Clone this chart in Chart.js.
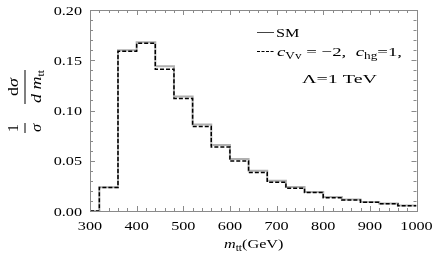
<!DOCTYPE html>
<html>
<head>
<meta charset="utf-8">
<script src="https://cdn.jsdelivr.net/npm/chart.js@4"></script>
<style>
  html, body { margin: 0; padding: 0; background: #fff; }
  #wrap { width: 432px; height: 264px; position: relative; }
</style>
</head>
<body>
<div id="wrap"><canvas id="myChart" width="432" height="264"></canvas></div>
<script>
// bin edges of the m_tt histogram (GeV)
var binEdges = [300, 320, 360, 400, 440, 480, 520, 560, 600, 640, 680, 720, 760, 800, 840, 880, 920, 960, 1000];
// 1/sigma dsigma/dm_tt per bin
var smValues = [0, 0.0237, 0.160, 0.168, 0.144, 0.114, 0.086, 0.0657, 0.0517, 0.040, 0.030, 0.024, 0.019, 0.014, 0.0115, 0.009, 0.0075, 0.0055];
var bsmValues = [0, 0.0235, 0.159, 0.167, 0.141, 0.112, 0.084, 0.0637, 0.0497, 0.0383, 0.0287, 0.0227, 0.0183, 0.0133, 0.011, 0.0087, 0.0073, 0.0053];
var xTicks = [300, 400, 500, 600, 700, 800, 900, 1000];
var yTicks = [0, 0.05, 0.10, 0.15, 0.20];

var serif = '"Liberation Serif", "DejaVu Serif", serif';
var SX = 1.2; // the Mathematica text is set wide

function toSteps(vals) {
  var pts = [];
  for (var i = 0; i < binEdges.length; i++) {
    pts.push({ x: binEdges[i], y: vals[Math.min(i, vals.length - 1)] });
  }
  return pts;
}

// draw text stretched horizontally, returns drawn width
function txt(ctx, s, x, y, font, align, sx) {
  sx = sx || SX;
  ctx.save();
  ctx.font = font;
  ctx.textAlign = 'left';
  var w = ctx.measureText(s).width * sx;
  var left = x;
  if (align === 'center') left = x - w / 2;
  if (align === 'right') left = x - w;
  ctx.translate(left, y);
  ctx.scale(sx, 1);
  ctx.fillText(s, 0, 0);
  ctx.restore();
  return w;
}

// pieces: [text, font, dy]; drawn left to right, fitted to a width if given
function txtRun(ctx, pieces, x, y, width) {
  var nat = 0;
  pieces.forEach(function(p) { ctx.font = p[1]; nat += ctx.measureText(p[0]).width; });
  var sx = width ? width / nat : SX;
  var cx = x;
  pieces.forEach(function(p) { cx += txt(ctx, p[0], cx, y + (p[2] || 0), p[1], 'left', sx); });
}

var framePlugin = {
  id: 'frame',
  afterDraw: function(chart) {
    var ctx = chart.ctx;
    var a = chart.chartArea;
    var xs = chart.scales.x, ys = chart.scales.y;
    ctx.save();
    ctx.strokeStyle = '#8a8a8a';
    ctx.lineWidth = 1;
    ctx.strokeRect(Math.round(a.left) + 0.5, Math.round(a.top) + 0.5,
      Math.round(a.right - a.left), Math.round(a.bottom - a.top));
    ctx.beginPath();
    for (var v = 300; v <= 1000; v += 20) {
      var px = Math.round(xs.getPixelForValue(v)) + 0.5;
      var len = (v % 100 === 0) ? 5 : 3;
      ctx.moveTo(px, a.bottom); ctx.lineTo(px, a.bottom - len);
      ctx.moveTo(px, a.top); ctx.lineTo(px, a.top + len);
    }
    for (var k = 0; k <= 20; k++) {
      var py = Math.round(ys.getPixelForValue(k / 100)) + 0.5;
      var l2 = (k % 5 === 0) ? 5 : 3;
      ctx.moveTo(a.left, py); ctx.lineTo(a.left + l2, py);
      ctx.moveTo(a.right, py); ctx.lineTo(a.right - l2, py);
    }
    ctx.stroke();

    ctx.fillStyle = '#000';
    ctx.textBaseline = 'alphabetic';
    var f13 = '13.5px ' + serif, i13 = 'italic 13.5px ' + serif, f9 = '9.5px ' + serif;
    var f14 = '15px ' + serif, i14 = 'italic 15px ' + serif, f10 = '10px ' + serif;

    // tick labels
    xTicks.forEach(function(t) {
      txt(ctx, String(t), xs.getPixelForValue(t), 230, f13, 'center');
    });
    yTicks.forEach(function(t) {
      txt(ctx, t.toFixed(2), 82, ys.getPixelForValue(t) + 4.5, f13, 'right');
    });

    // x axis title m_tt(GeV)
    txtRun(ctx, [['m', i13], ['tt', f9, 2.5], ['(GeV)', f13]], 224, 248);

    // y axis title: 1/sigma dsigma/(d m_tt), rotated
    ctx.save();
    ctx.translate(25, 110);
    ctx.rotate(-Math.PI / 2);
    txt(ctx, '1', -18, -7, f14, 'center', 1.1);
    txt(ctx, '\u03c3', -18, 16, i14, 'center', 1.1);
    ctx.fillRect(-23, -0.5, 10, 1);
    txtRun(ctx, [['d', f14], ['\u03c3', i14]], 14, -7);
    ctx.fillRect(6, -0.5, 34, 1);
    txtRun(ctx, [['d m', i14], ['tt', f10, 2.5]], 7, 16);
    ctx.restore();

    // legend
    ctx.strokeStyle = '#444';
    ctx.lineWidth = 1;
    ctx.setLineDash([]);
    ctx.beginPath(); ctx.moveTo(257, 32.5); ctx.lineTo(274, 32.5); ctx.stroke();
    ctx.strokeStyle = '#000';
    ctx.lineWidth = 1.2;
    ctx.setLineDash([3, 1.5]);
    ctx.beginPath(); ctx.moveTo(257, 51.5); ctx.lineTo(274, 51.5); ctx.stroke();
    ctx.setLineDash([]);

    txt(ctx, 'SM', 276, 37, f13, 'left');
    txtRun(ctx, [['c', i13], ['Vv', f9, 2.5], [' = \u22122,  ', f13], ['c', i13], ['hg', f9, 2.5], ['=1,', f13]], 277, 56, 125);
    txtRun(ctx, [['\u039b=1 TeV', f13]], 302, 83, 75);
    ctx.restore();
  }
};

var ctx = document.getElementById('myChart');
var myChart = new Chart(ctx, {
  type: 'line',
  data: {
    datasets: [{
      label: 'SM',
      data: toSteps(smValues),
      stepped: true,
      borderColor: '#b0b0b0',
      borderWidth: 2,
      pointRadius: 0,
      fill: false,
      order: 2
    }, {
      label: 'BSM',
      data: toSteps(bsmValues),
      stepped: true,
      borderColor: '#000',
      borderWidth: 1.5,
      borderDash: [4, 2],
      pointRadius: 0,
      fill: false,
      order: 1
    }]
  },
  plugins: [framePlugin],
  options: {
    responsive: false,
    animation: false,
    layout: { padding: { top: 10, right: 15.5, left: 0, bottom: 0 } },
    plugins: {
      legend: { display: false },
      title: { display: false },
      tooltip: { enabled: false }
    },
    scales: {
      x: {
        type: 'linear',
        min: 300,
        max: 1000,
        afterBuildTicks: function(scale) {
          scale.ticks = xTicks.map(function(v) { return { value: v }; });
        },
        afterFit: function(scale) { scale.height = 53; },
        grid: { display: false },
        border: { display: false },
        ticks: { display: false }
      },
      y: {
        type: 'linear',
        min: 0,
        max: 0.2,
        afterBuildTicks: function(scale) {
          scale.ticks = yTicks.map(function(v) { return { value: v }; });
        },
        afterFit: function(scale) { scale.width = 90; },
        grid: { display: false },
        border: { display: false },
        ticks: { display: false }
      }
    }
  }
});
</script>
</body>
</html>
